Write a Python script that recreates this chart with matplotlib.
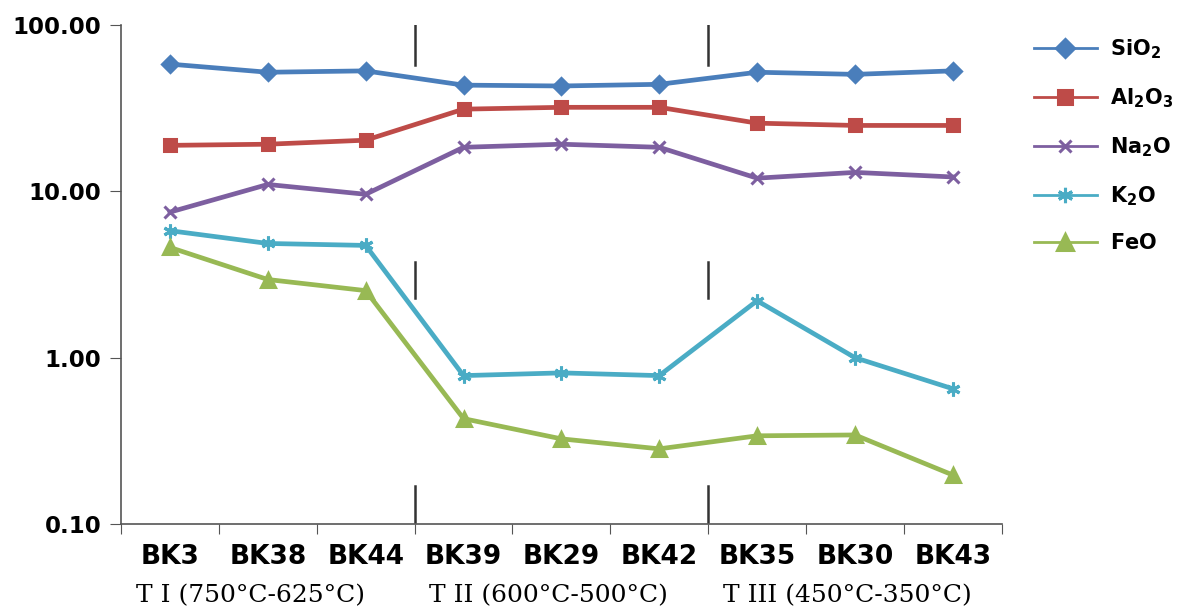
import numpy as np
import matplotlib
matplotlib.use("Agg")
import matplotlib.pyplot as plt

samples = ["BK3", "BK38", "BK44", "BK39", "BK29", "BK42", "BK35", "BK30", "BK43"]
groups = ["T I (750°C-625°C)", "T II (600°C-500°C)", "T III (450°C-350°C)"]

sio2 = [58.2, 52.0, 53.0, 43.5, 43.0, 44.0, 52.0, 50.5, 53.0]
al2o3 = [18.9, 19.2, 20.3, 31.2, 32.0, 32.0, 25.7, 24.9, 24.9]
na2o = [7.5, 11.0, 9.6, 18.4, 19.2, 18.4, 12.0, 13.0, 12.2]
k2o = [5.8, 4.86, 4.73, 0.78, 0.81, 0.78, 2.2, 1.0, 0.65]
feo = [4.6, 2.95, 2.53, 0.43, 0.325, 0.283, 0.339, 0.343, 0.197]

series = [
    (r"$\mathbf{SiO_2}$", sio2, "#4a7ebb", "D", 8),
    (r"$\mathbf{Al_2O_3}$", al2o3, "#be4b48", "s", 9),
    (r"$\mathbf{Na_2O}$", na2o, "#7d5fa0", "x", 8),
    (r"$\mathbf{K_2O}$", k2o, "#4aacc5", (6, 2, 0), 10),
    (r"$\mathbf{FeO}$", feo, "#98b954", "^", 10),
]

fig = plt.figure(figsize=(11.78, 6.1), dpi=100)
ax = fig.add_axes([0.1027, 0.141, 0.7477, 0.818])
x = np.arange(len(samples))
handles = []
for label, vals, col, mk, ms in series:
    ax.plot(x, vals, color=col, lw=3.4, marker=mk, ms=ms, mew=2.2,
            mec=col, mfc=col)
    # thinner line for the legend key
    h, = ax.plot([], [], color=col, lw=2, marker=mk, ms=ms + 1, mew=2.2,
                 mec=col, mfc=col, label=label)
    handles.append(h)

ax.set_yscale("log")
ax.set_ylim(0.1, 100)
ax.set_xlim(-0.5, len(samples) - 0.5)
ax.set_yticks([0.1, 1, 10, 100])
ax.set_yticklabels(["0.10", "1.00", "10.00", "100.00"],
                   fontsize=16.5, fontweight="bold")
ax.minorticks_off()
ax.set_xticks(np.arange(-0.5, len(samples), 1.0))
ax.set_xticklabels([])
ax.tick_params(axis="x", length=7, color="#555555", direction="out")
ax.tick_params(axis="y", length=8, color="#555555", direction="out", pad=6)
for i, s in enumerate(samples):
    ax.text(i, -0.04, s, transform=ax.get_xaxis_transform(), ha="center",
            va="top", fontsize=19, fontweight="bold")
for g, lbl in enumerate(groups):
    ax.text(g * 3 - 0.5 + 0.15, -0.12, lbl, transform=ax.get_xaxis_transform(),
            ha="left", va="top", fontsize=18, family="DejaVu Serif")

for s in ["top", "right"]:
    ax.spines[s].set_visible(False)
for s in ["left", "bottom"]:
    ax.spines[s].set_color("#555555")
    ax.spines[s].set_linewidth(1.2)

# temperature-group dividers
for xb in [2.5, 5.5]:
    for lo, hi in [(0.92, 1.0), (0.453, 0.525), (0.004, 0.076)]:
        ax.axvline(xb, ymin=lo, ymax=hi, color="#333333", lw=1.8)

fig.legend(handles=handles, loc="upper left", bbox_to_anchor=(0.862, 0.97),
           frameon=False, prop={"size": 15}, labelspacing=1.22,
           handlelength=3.0, handletextpad=0.65)

fig.savefig("out.png", dpi=100)
